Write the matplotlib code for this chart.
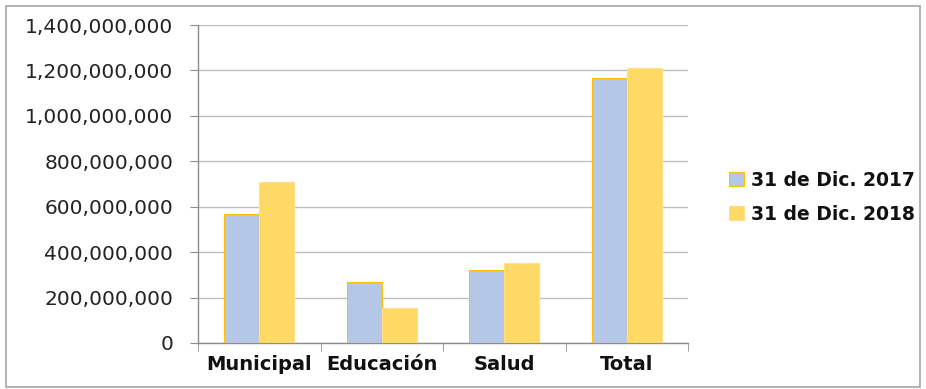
import matplotlib
matplotlib.use("Agg")
import matplotlib.pyplot as plt
from matplotlib.patches import Rectangle
from matplotlib.ticker import FuncFormatter, MultipleLocator
import numpy as np

categories = ["Municipal", "Educación", "Salud", "Total"]
series_names = ["31 de Dic. 2017", "31 de Dic. 2018"]
values_2017 = [568e6, 268e6, 321e6, 1167e6]
values_2018 = [709e6, 154e6, 352e6, 1211e6]

fig = plt.figure(figsize=(9.26, 3.89), dpi=100)
fig.patches.append(Rectangle((6/926, 2/389), 914/926, 381/389, transform=fig.transFigure,
                             fill=False, edgecolor="#A6A6A6", linewidth=1.2))
ax = fig.add_axes([198/926, 46/389, 490/926, 318/389])

x = np.arange(len(categories))
w = 0.285
ax.bar(x - w/2, values_2017, w, color="#B4C7E7", edgecolor="#FFC000", linewidth=0.8,
       label=series_names[0], zorder=3)
ax.bar(x + w/2, values_2018, w, color="#FFD966", edgecolor="#FFE08A", linewidth=0.8,
       label=series_names[1], zorder=3)

ax.set_xlim(-0.5, len(categories) - 0.5)
ax.set_ylim(0, 1.4e9)
ax.yaxis.set_major_locator(MultipleLocator(2e8))
ax.yaxis.set_major_formatter(FuncFormatter(lambda v, p: f"{int(v):,}"))
ax.grid(axis="y", color="#BFBFBF", linewidth=1.0, zorder=0)
for s in ["top", "right"]:
    ax.spines[s].set_visible(False)
for s in ["left", "bottom"]:
    ax.spines[s].set_color("#8C8C8C")
    ax.spines[s].set_linewidth(1.0)

ax.set_xticks(x)
ax.set_xticklabels(categories, fontsize=14, fontweight="bold", color="#111111")
ax.tick_params(axis="x", which="major", length=0, pad=9)
ax.set_xticks(np.arange(-0.5, len(categories)), minor=True)
ax.tick_params(axis="x", which="minor", length=6, color="#8C8C8C", direction="out")
ax.tick_params(axis="y", length=6, color="#8C8C8C", labelsize=14.5, labelcolor="#222222", pad=12)

leg = fig.legend(loc="center left", bbox_to_anchor=(712/926, 1 - 197/389), frameon=False,
                 prop={"size": 13.5, "weight": "bold"}, handlelength=0.8, handleheight=0.8,
                 handletextpad=0.4, labelspacing=0.8)
for t in leg.get_texts():
    t.set_color("#111111")

fig.savefig("out.png", dpi=100)
